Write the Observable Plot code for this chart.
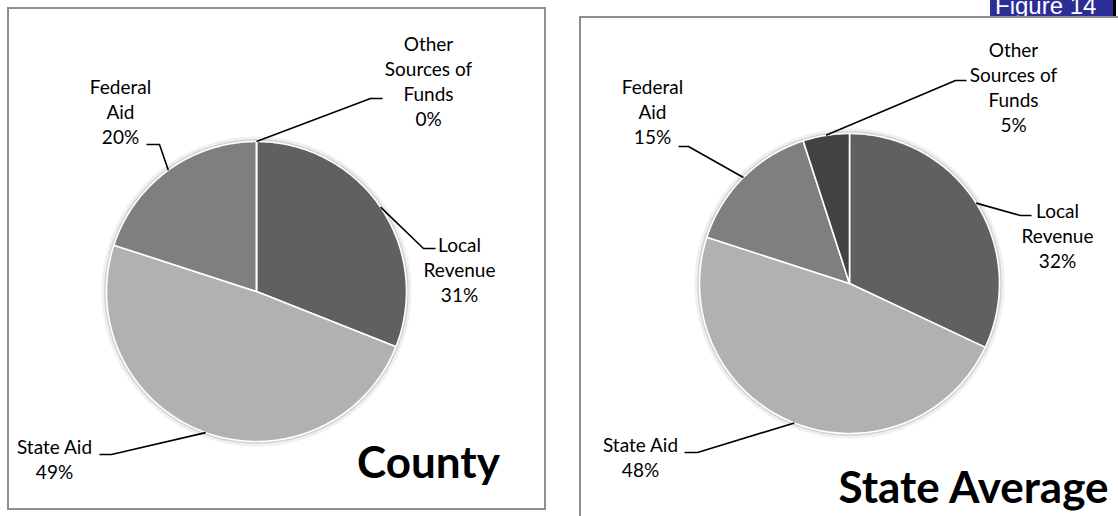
<!DOCTYPE html>
<html><head><meta charset="utf-8">
<script src="https://cdn.jsdelivr.net/npm/d3@7"></script>
<script src="https://cdn.jsdelivr.net/npm/@observablehq/plot@0.6"></script>
<style>
html,body{margin:0;padding:0;background:#fff;}
body{width:1118px;height:516px;overflow:hidden;position:relative;}
.frame{position:absolute;box-sizing:border-box;border:2px solid #8e8e8e;}
#chart{position:absolute;left:0;top:0;}
#fig{position:absolute;left:990px;top:0;width:123px;height:16px;background:#2d2d96;overflow:hidden;box-shadow:3px 0 0 #000;}
#fig span{position:absolute;left:5px;top:-6px;font:24px/24px "Liberation Sans",Arial,sans-serif;color:#fff;white-space:nowrap;}
</style></head>
<body>
<div class="frame" style="left:7px;top:7px;width:539px;height:503px;"></div>
<div class="frame" style="left:579px;top:16px;width:600px;height:560px;"></div>
<div id="fig"><span>Figure 14</span></div>
<div id="chart"></div>
<script>
// ---- data ----
const categories = ["Local Revenue", "State Aid", "Federal Aid", "Other Sources of Funds"];
const countyValues = [31, 49, 20, 0];
const stateValues = [32, 48, 15, 5];
const labelTexts = ["Local\nRevenue", "State Aid", "Federal\nAid", "Other\nSources of\nFunds"];
const panelTitles = ["County", "State Average"];
const sliceColors = ["#606060", "#b1b1b1", "#7f7f7f", "#424242"];

// ---- layout (pixel positions of pies, labels, leader elbows) ----
const layout = [
  {cx: 256, cy: 291, r: 150, titleX: 428, titleBase: 477,
   labels: [
     {x: 459, y: 245, bx: 423, by: 248, ex: 435, ey: 248},
     {x: 54,  y: 447, bx: 111, by: 454, ex: 99,  ey: 454},
     {x: 120, y: 87,  bx: 159, by: 144, ex: 146, ey: 144},
     {x: 428, y: 44,  bx: 370, by: 98,  ex: 382, ey: 98}
   ]},
  {cx: 849, cy: 283, r: 150, titleX: 973, titleBase: 502,
   labels: [
     {x: 1057, y: 211, bx: 1020, by: 215, ex: 1031, ey: 215},
     {x: 640,  y: 445, bx: 697,  by: 452, ex: 684,  ey: 452},
     {x: 652,  y: 87,  bx: 688,  by: 146, ex: 678,  ey: 146},
     {x: 1013, y: 50,  bx: 955,  by: 80,  ex: 966,  ey: 80}
   ]}
];
const panelValues = [countyValues, stateValues];

const W = 1118, H = 516;
const fs = 19;
const pie = d3.pie().sort(null).value(d => d);

const slicePts = categories.map(() => []);
const rimPts = [], leaderPts = [], labelRows = [], titleRows = [];
panelValues.forEach((vals, p) => {
  const L = layout[p];
  const pt = ang => ({x: L.cx + L.r * Math.sin(ang), y: L.cy - L.r * Math.cos(ang)});
  const arcs = pie(vals);
  arcs.forEach((a, i) => {
    const key = p + "-" + i;
    slicePts[i].push({key, x: L.cx, y: L.cy});
    const n = Math.max(1, Math.ceil((a.endAngle - a.startAngle) / (Math.PI / 180)));
    for (let k = 0; k <= n; k++) {
      const ang = a.startAngle + (a.endAngle - a.startAngle) * k / n;
      slicePts[i].push({key, ...pt(ang)});
      rimPts.push({key: "rim" + p, ...pt(ang)});
    }
    const mid = (a.startAngle + a.endAngle) / 2;
    const lb = L.labels[i];
    const s = pt(mid);
    leaderPts.push({key, x: s.x, y: s.y}, {key, x: lb.bx, y: lb.by}, {key, x: lb.ex, y: lb.ey});
    labelRows.push({x: lb.x, y: lb.y - 0.62 * fs, text: labelTexts[i] + "\n" + d3.format(".0f")(a.data) + "%"});
  });
  titleRows.push({x: L.titleX, y: L.titleBase - 0.32 * 44, text: panelTitles[p]});
});

const chart = Plot.plot({
  width: W, height: H,
  margin: 0,
  x: {domain: [0, W], range: [0, W], axis: null},
  y: {domain: [0, H], range: [0, H], axis: null},
  style: {background: "transparent", overflow: "visible"},
  marks: [
    Plot.line(rimPts, {x: "x", y: "y", z: "key", stroke: "#000", strokeOpacity: 0.06, strokeWidth: 10, curve: "linear-closed"}),
    Plot.line(rimPts, {x: "x", y: "y", z: "key", stroke: "#000", strokeOpacity: 0.12, strokeWidth: 4.5, curve: "linear-closed"}),
    ...categories.map((c, i) =>
      Plot.line(slicePts[i], {x: "x", y: "y", z: "key", fill: sliceColors[i], stroke: "white", strokeWidth: 1.6, curve: "linear-closed", title: () => c})
    ),
    Plot.line(leaderPts, {x: "x", y: "y", z: "key", stroke: "black", strokeWidth: 1.6, strokeLinecap: "butt", strokeLinejoin: "miter"}),
    Plot.text(labelRows, {x: "x", y: "y", text: "text", textAnchor: "middle", lineAnchor: "top", lineHeight: 1.32, fontSize: fs, fontFamily: "Lato, sans-serif", fill: "black"}),
    Plot.text(titleRows, {x: "x", y: "y", text: "text", textAnchor: "middle", lineAnchor: "middle", fontSize: 44, fontWeight: "bold", fontFamily: "Lato, sans-serif", fill: "black"})
  ]
});
document.getElementById("chart").appendChild(chart);
</script>
</body></html>
